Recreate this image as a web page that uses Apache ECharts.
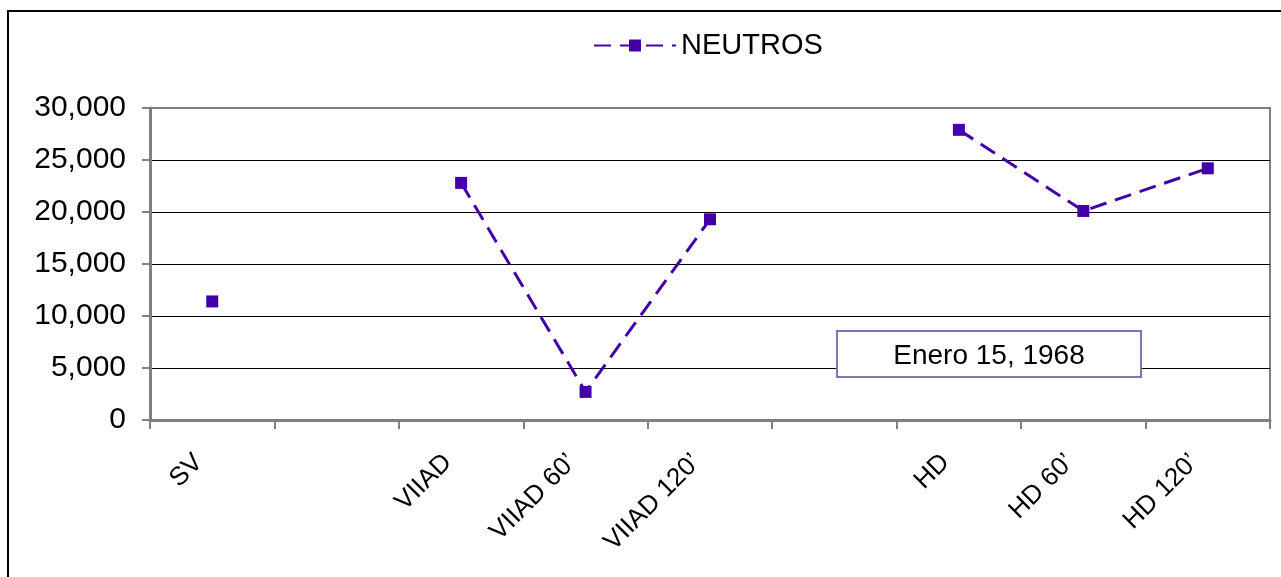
<!DOCTYPE html>
<html>
<head>
<meta charset="utf-8">
<script src="https://cdn.jsdelivr.net/npm/echarts@6/dist/echarts.min.js"></script>
<style>
  html, body { margin: 0; padding: 0; background: #fff; }
  #chart { width: 1281px; height: 577px; }
</style>
</head>
<body>
<div id="chart"></div>
<script>
// Sample groups along the x axis (empty slots separate the groups)
const categories = ['SV', '', 'VIIAD', "VIIAD 60’", "VIIAD 120’", '', 'HD', "HD 60’", "HD 120’"];
// Neutrophil counts per sample; null leaves a gap in the line
const neutros = [11400, null, 22800, 2700, 19300, null, 27900, 20100, 24200];
const yTicks = { min: 0, max: 30000, interval: 5000 };
const seriesName = 'NEUTROS';
const noteText = 'Enero 15, 1968';

const FONT = '"Liberation Sans", Arial, sans-serif';
const PURPLE = '#4400a8';
const AXIS_GRAY = '#808080';

const chart = echarts.init(document.getElementById('chart'), null, { renderer: 'canvas' });

const fmt = v => v.toLocaleString('en-US');

chart.setOption({
  animation: false,
  backgroundColor: '#ffffff',
  legend: {
    data: [seriesName],
    left: 588,
    top: 26,
    itemWidth: 82,
    itemHeight: 15,
    itemGap: 8,
    textStyle: { fontFamily: FONT, fontSize: 29, color: '#000' }
  },
  grid: { left: 150, right: 11, top: 108, bottom: 157, show: true, borderColor: AXIS_GRAY, borderWidth: 2, backgroundColor: 'transparent' },
  xAxis: {
    type: 'category',
    data: categories,
    boundaryGap: true,
    axisLine: { show: true, lineStyle: { color: AXIS_GRAY, width: 3 } },
    axisTick: { show: true, interval: 0, length: 9, lineStyle: { color: AXIS_GRAY, width: 2 } },
    axisLabel: {
      interval: 0,
      rotate: 45,
      margin: 25,
      fontFamily: FONT,
      fontSize: 26,
      color: '#000',
      padding: [0, 19, 38, 0]
    },
    splitLine: { show: false }
  },
  yAxis: {
    type: 'value',
    min: yTicks.min,
    max: yTicks.max,
    interval: yTicks.interval,
    axisLine: { show: true, lineStyle: { color: AXIS_GRAY, width: 3 } },
    axisTick: { show: true, length: 8, lineStyle: { color: AXIS_GRAY, width: 2 } },
    axisLabel: { margin: 24, fontFamily: FONT, fontSize: 30, color: '#000', formatter: fmt },
    splitLine: {
      show: true,
      lineStyle: { color: ['#000', '#000', '#000', '#000', '#000', '#000', AXIS_GRAY], width: 1 }
    }
  },
  series: [{
    name: seriesName,
    type: 'line',
    data: neutros,
    connectNulls: false,
    symbol: 'rect',
    symbolSize: 12,
    itemStyle: { color: PURPLE },
    lineStyle: { color: PURPLE, width: 3, type: [17, 9] }
  }],
  graphic: [
    {
      type: 'rect',
      silent: true,
      shape: { x: 8, y: 11, width: 1290, height: 600 },
      style: { fill: 'none', stroke: '#000', lineWidth: 2 },
      z: 100
    },
    {
      type: 'rect',
      silent: true,
      shape: { x: 837, y: 331, width: 304, height: 46 },
      style: { fill: '#fff', stroke: '#7878b4', lineWidth: 2 },
      z: 100
    },
    {
      type: 'text',
      silent: true,
      x: 989,
      y: 356,
      style: { text: noteText, font: '28px ' + FONT, fill: '#000', align: 'center', verticalAlign: 'middle' },
      z: 101
    }
  ]
});
</script>
</body>
</html>
